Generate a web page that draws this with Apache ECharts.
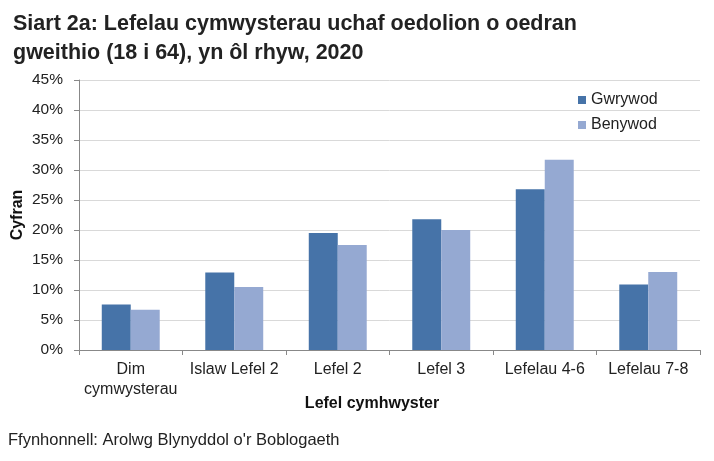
<!DOCTYPE html>
<html>
<head>
<meta charset="utf-8">
<script src="https://cdn.jsdelivr.net/npm/echarts@6/dist/echarts.min.js"></script>
<style>html,body{margin:0;padding:0;background:#fff;}#c{width:714px;height:461px;}</style>
</head>
<body>
<div id="c"></div>
<script>
const categories = ['Dim\ncymwysterau', 'Islaw Lefel 2', 'Lefel 2', 'Lefel 3', 'Lefelau 4-6', 'Lefelau 7-8'];
const gwrywod = [7.6, 12.9, 19.5, 21.8, 26.8, 10.9];
const benywod = [6.7, 10.5, 17.5, 20.0, 31.7, 13.0];
const seriesNames = ['Gwrywod', 'Benywod'];

const chart = echarts.init(document.getElementById('c'));
const font = 'Liberation Sans, Arial, sans-serif';
chart.setOption({
  animation: false,
  textStyle: { fontFamily: font },
  title: {
    text: 'Siart 2a: Lefelau cymwysterau uchaf oedolion o oedran\ngweithio (18 i 64), yn ôl rhyw, 2020',
    left: 8, top: 5,
    textStyle: { fontFamily: font, fontSize: 21.5, fontWeight: 'bold', color: '#222', lineHeight: 29 }
  },
  legend: {
    orient: 'vertical', left: 573, top: 87,
    itemWidth: 8, itemHeight: 8, itemGap: 9,
    icon: 'rect',
    textStyle: { fontFamily: font, fontSize: 16, color: '#222' },
    data: seriesNames
  },
  grid: { left: 79, right: 14, top: 80, bottom: 111 },
  xAxis: {
    type: 'category',
    data: categories,
    axisLine: { lineStyle: { color: '#888', width: 1 } },
    axisTick: { show: true, length: 5, lineStyle: { color: '#888' } },
    axisLabel: { fontFamily: font, fontSize: 16, color: '#222', margin: 10, lineHeight: 20, interval: 0 }
  },
  yAxis: {
    type: 'value', min: 0, max: 45, interval: 5,
    axisLine: { show: true, lineStyle: { color: '#888' } },
    axisTick: { show: true, length: 5, lineStyle: { color: '#888' } },
    axisLabel: { fontFamily: font, fontSize: 15.5, color: '#222', margin: 16, formatter: '{value}%' },
    splitLine: { lineStyle: { color: '#d9d9d9' } }
  },
  series: [
    { name: seriesNames[0], type: 'bar', data: gwrywod, barGap: '0%', barCategoryGap: '44%', itemStyle: { color: '#4673A8' } },
    { name: seriesNames[1], type: 'bar', data: benywod, barGap: '0%', barCategoryGap: '44%', itemStyle: { color: '#95A9D2' } }
  ],
  graphic: [
    { type: 'text', rotation: Math.PI / 2, x: 18, y: 215,
      style: { text: 'Cyfran', font: 'bold 16px ' + font, fill: '#111', textAlign: 'center', textVerticalAlign: 'middle' } },
    { type: 'text', x: 372, y: 404,
      style: { text: 'Lefel cymhwyster', font: 'bold 16px ' + font, fill: '#111', textAlign: 'center', textVerticalAlign: 'middle' } },
    { type: 'text', x: 8, y: 440,
      style: { text: "Ffynhonnell: Arolwg Blynyddol o'r Boblogaeth", font: '16.5px ' + font, fill: '#222', textAlign: 'left', textVerticalAlign: 'middle' } }
  ]
});
</script>
</body>
</html>
